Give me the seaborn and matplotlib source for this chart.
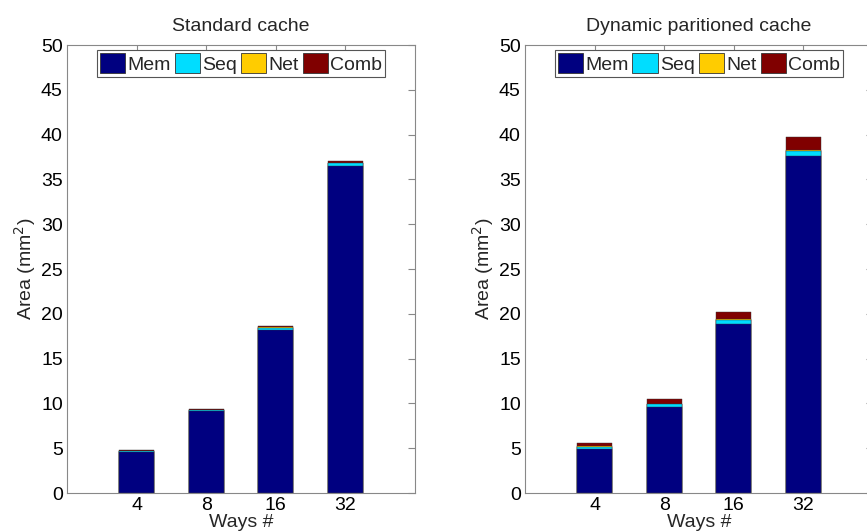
import pandas as pd
import matplotlib
matplotlib.use("Agg")
import matplotlib.pyplot as plt
from matplotlib.patches import Patch
import seaborn as sns

sns.set_style("white")
plt.rcParams['font.family'] = ['Liberation Sans', 'DejaVu Sans']

ways = ["4", "8", "16", "32"]
components = ["Mem", "Seq", "Net", "Comb"]
colors = ["#000080", "#00DDFF", "#FFCC00", "#800000"]

# Standard cache areas (mm^2)
std_mem = [4.55, 9.1, 18.25, 36.5]
std_seq = [0.12, 0.18, 0.22, 0.3]
std_net = [0.02, 0.03, 0.03, 0.04]
std_comb = [0.11, 0.12, 0.15, 0.2]

# Dynamic partitioned cache areas (mm^2)
dyn_mem = [4.9, 9.6, 18.9, 37.6]
dyn_seq = [0.27, 0.3, 0.45, 0.6]
dyn_net = [0.03, 0.05, 0.05, 0.1]
dyn_comb = [0.35, 0.52, 0.8, 1.4]

fig = plt.figure(figsize=(8.67, 5.32), dpi=100)
ax1 = fig.add_axes([0.0773, 0.0733, 0.4014, 0.842])
ax2 = fig.add_axes([0.6055, 0.0733, 0.4014, 0.842])


def stacked(ax, parts, title):
    # draw cumulative totals from the top layer down so each covers the one below
    cum = []
    run = [0.0] * len(ways)
    for p in parts:
        run = [a + b for a, b in zip(run, p)]
        cum.append(run)
    for heights, col in zip(reversed(cum), reversed(colors)):
        df = pd.DataFrame({"ways": ways, "area": heights})
        sns.barplot(data=df, x="ways", y="area", order=ways, color=col,
                    saturation=1, width=0.5, edgecolor="#333333",
                    linewidth=0.3, ax=ax)
    ax.set_xlim(-1, 4)
    ax.set_ylim(0, 50)
    ax.set_yticks(range(0, 51, 5))
    ax.tick_params(direction="in", length=5, color="#888888",
                   top=True, right=True, labelsize=14, pad=3,
                   labelcolor="black")
    for s in ax.spines.values():
        s.set_color("#888888")
        s.set_linewidth(0.8)
    ax.set_title(title, fontsize=14, pad=10)
    ax.set_xlabel("Ways #", fontsize=14, labelpad=0)
    ax.set_ylabel("Area (mm$^2$)", fontsize=14, labelpad=2)
    handles = [Patch(facecolor=c, edgecolor="#333333", linewidth=0.6, label=n)
               for n, c in zip(components, colors)]
    leg = ax.legend(handles=handles, loc="upper center", ncol=4,
                    bbox_to_anchor=(0.5, 0.997), fontsize=14,
                    handlelength=1.3, handleheight=1.2, handletextpad=0.12,
                    columnspacing=0.2, borderpad=0.15, borderaxespad=0.2,
                    fancybox=False, framealpha=1, edgecolor="#555555")
    leg.get_frame().set_linewidth(0.8)


stacked(ax1, [std_mem, std_seq, std_net, std_comb], "Standard cache")
stacked(ax2, [dyn_mem, dyn_seq, dyn_net, dyn_comb], "Dynamic paritioned cache")

fig.savefig("out.png", dpi=100)
